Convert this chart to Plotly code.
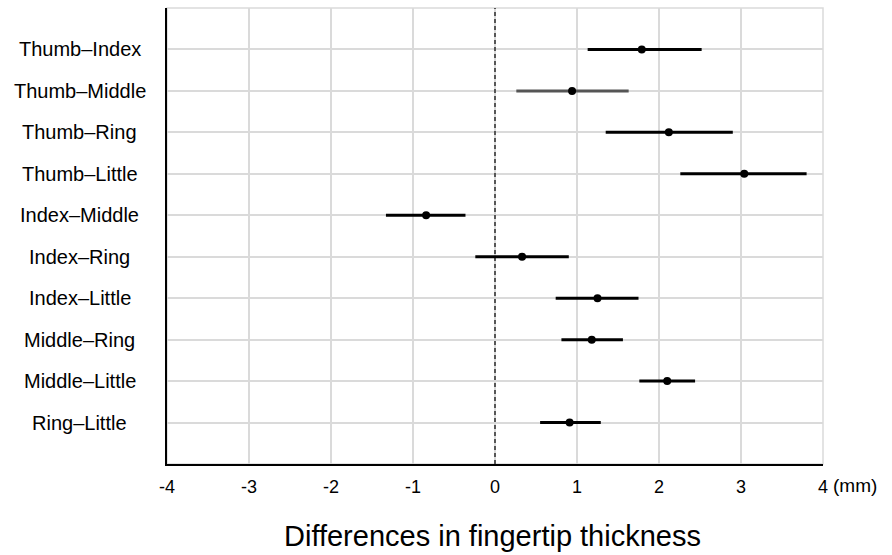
import plotly.graph_objects as go

pairs = ["Thumb–Index", "Thumb–Middle", "Thumb–Ring", "Thumb–Little", "Index–Middle",
         "Index–Ring", "Index–Little", "Middle–Ring", "Middle–Little", "Ring–Little"]
estimate = [1.79, 0.94, 2.12, 3.04, -0.84, 0.33, 1.25, 1.18, 2.10, 0.91]
ci_low = [1.13, 0.26, 1.35, 2.26, -1.33, -0.24, 0.74, 0.81, 1.76, 0.55]
ci_high = [2.52, 1.63, 2.90, 3.80, -0.36, 0.90, 1.75, 1.56, 2.44, 1.29]
x_ticks = [-4, -3, -2, -1, 0, 1, 2, 3, 4]
line_colors = ["#000000", "#555555", "#000000", "#000000", "#000000",
               "#000000", "#000000", "#000000", "#000000", "#000000"]

FONT = "Liberation Sans, Arial, Helvetica, sans-serif"
GRID = "#dadada"

fig = go.Figure()
for p, lo, hi, c in zip(pairs, ci_low, ci_high, line_colors):
    fig.add_trace(go.Scatter(x=[lo, hi], y=[p, p], mode="lines",
                             line=dict(color=c, width=3), showlegend=False,
                             hoverinfo="skip"))
fig.add_trace(go.Scatter(x=estimate, y=pairs, mode="markers",
                         marker=dict(color="black", size=8), showlegend=False))

# centered category labels
for p in pairs:
    fig.add_annotation(x=-0.133, xref="paper", y=p, yref="y", text=p,
                       showarrow=False, xanchor="center", yanchor="middle",
                       font=dict(family=FONT, size=20, color="black"))

fig.add_annotation(x=1, xref="paper", y=0, yref="paper", text="(mm)",
                   showarrow=False, xanchor="left", yanchor="middle",
                   xshift=8, yshift=-21,
                   font=dict(family=FONT, size=19, color="black"))
fig.add_annotation(x=0.5, xref="paper", y=0, yref="paper",
                   text="Differences in fingertip thickness",
                   showarrow=False, xanchor="center", yanchor="middle",
                   xshift=-3, yshift=-72,
                   font=dict(family=FONT, size=29, color="black"))

# border (top/right light gray)
fig.add_shape(type="rect", xref="paper", yref="paper", x0=0, x1=1, y0=0, y1=1,
              line=dict(color=GRID, width=1.5), layer="below")
fig.add_shape(type="line", xref="x", yref="paper", x0=0, x1=0, y0=0, y1=1,
              line=dict(color="black", width=1.2, dash="4px,3px"))

fig.update_xaxes(range=[-4, 4], tickvals=x_ticks, ticktext=[str(v) for v in x_ticks],
                 showgrid=True, gridcolor=GRID, gridwidth=1.5,
                 showline=True, linecolor="black", linewidth=1.5,
                 zeroline=False, ticks="", ticklabelstandoff=6,
                 tickfont=dict(family=FONT, size=18, color="black"))
fig.update_yaxes(type="category", categoryorder="array", categoryarray=pairs,
                 range=[10, -1], showticklabels=False,
                 showgrid=True, gridcolor=GRID, gridwidth=1.5,
                 showline=True, linecolor="black", linewidth=1.5,
                 zeroline=False, ticks="")

fig.update_layout(width=892, height=555, margin=dict(l=167, r=69, t=8, b=91),
                  plot_bgcolor="white", paper_bgcolor="white",
                  font=dict(family=FONT, color="black"))

fig.write_html("out.html", config={"displayModeBar": False},
               post_script="document.body.style.margin='0';document.body.style.overflow='hidden';")
